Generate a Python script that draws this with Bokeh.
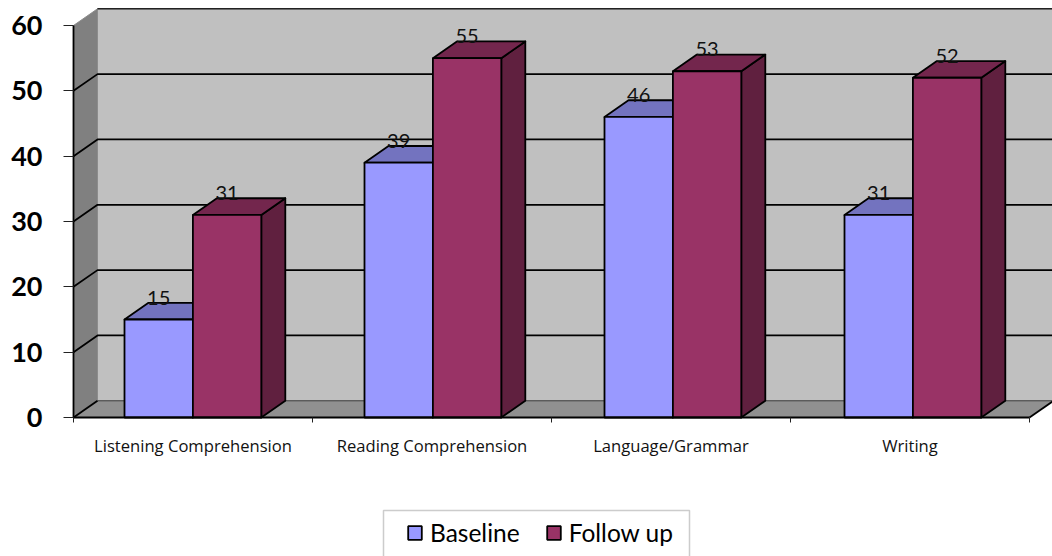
from bokeh.plotting import figure
from bokeh.models import Range1d, FixedTicker, Legend, LegendItem, BoxAnnotation
from bokeh.core.properties import value
from bokeh.embed import file_html
from bokeh.resources import INLINE

categories = ["Listening Comprehension", "Reading Comprehension", "Language/Grammar", "Writing"]
baseline = [15, 39, 46, 31]
follow_up = [31, 55, 53, 52]
y_ticks = [0, 10, 20, 30, 40, 50, 60]

W, H = 1052, 556
X0, Y0 = 73, 417          # canvas position of the axes origin
CAT_PX = 239              # width of one category
UNIT_PX = 392 / 60        # height of one score point
DX = 24 / CAT_PX          # oblique depth of the 3D box
DY = 16.7 / UNIT_PX
GAP = 51 / CAT_PX
BAR = 68.4 / CAT_PX
STEP = 240 / CAT_PX       # distance between bar clusters

BLUE, BLUE_TOP = "#9999FF", "#7373BF"
RED, RED_TOP, RED_SIDE = "#993366", "#73264D", "#60203F"
FONT = "Lato"
LABEL_FONT = "Open Sans"

x_min, x_max = -X0 / CAT_PX, (W - X0) / CAT_PX
y_min, y_max = (Y0 - H) / UNIT_PX, Y0 / UNIT_PX

p = figure(width=W, height=H, output_backend="svg", toolbar_location=None,
           x_range=Range1d(x_min, x_max), y_range=Range1d(y_min, y_max),
           min_border=0, outline_line_color=None, background_fill_color="white")
p.grid.visible = False

# Walls and floor of the box
n = len(categories)
y_top = y_ticks[-1]
p.patch([DX, x_max, x_max, DX], [DY, DY, y_top + DY, y_top + DY],
        fill_color="#C0C0C0", line_color="#8C8C8C", line_width=1)
p.patch([0, DX, DX, 0], [0, DY, y_top + DY, y_top],
        fill_color="#808080", line_color="#8C8C8C", line_width=1)
p.line([DX, x_max], [y_top + DY, y_top + DY], line_color="#222222", line_width=1.5)

# Gridlines run up the side wall and across the back wall
for t in y_ticks[1:-1]:
    p.line([0, DX, x_max], [t, t + DY, t + DY], line_color="black", line_width=1.8)

p.patch([0, n, n + DX, x_max, DX], [0, 0, DY, DY, DY],
        fill_color="#909090", line_color=None)
p.line([DX, x_max], [DY, DY], line_color="#404040", line_width=1)
p.line([0, DX], [0, DY], line_color="black", line_width=1.8)
p.line([n, n + DX], [0, DY], line_color="black", line_width=1.8)


def draw_series(values, offset, face, top, side):
    lefts = [i * STEP + GAP + offset * BAR for i in range(n)]
    rights = [l + BAR for l in lefts]
    p.patches([[r, r + DX, r + DX, r] for r in rights],
              [[0, DY, v + DY, v] for v in values],
              fill_color=side, line_color="black", line_width=1.8, line_join="round")
    p.patches([[l, l + DX, r + DX, r] for l, r in zip(lefts, rights)],
              [[v, v + DY, v + DY, v] for v in values],
              fill_color=top, line_color="black", line_width=1.8, line_join="round")
    return p.quad(left=lefts, right=rights, bottom=0, top=values,
                  fill_color=face, line_color="black", line_width=1.8)


blue_bars = draw_series(baseline, 0, BLUE, BLUE_TOP, BLUE_TOP)
red_bars = draw_series(follow_up, 1, RED, RED_TOP, RED_SIDE)

# Value labels sit on the back edge of each bar top
for values, offset in ((baseline, 0), (follow_up, 1)):
    p.text([i * STEP + GAP + (offset + 0.5) * BAR for i in range(n)],
           [v + DY - 0.3 for v in values], text=[str(v) for v in values],
           text_font=value(FONT), text_font_size="20px", text_color="#111111",
           text_align="center", text_baseline="bottom")

# Axes are pinned to the front edge of the box
ya = p.yaxis[0]
ya.fixed_location = 0
ya.bounds = (0, y_top)
ya.ticker = FixedTicker(ticks=y_ticks)
ya.major_tick_in = 0
ya.major_tick_out = 10
ya.minor_tick_out = 0
ya.minor_tick_in = 0
ya.major_tick_line_color = "#222222"
ya.axis_line_color = "black"
ya.axis_line_width = 1.8
ya.major_label_standoff = 21
ya.major_label_text_font = FONT
ya.major_label_text_font_style = "bold"
ya.major_label_text_font_size = "27px"
ya.major_label_text_color = "black"

xa = p.xaxis[0]
xa.fixed_location = 0
xa.bounds = (0, n)
centers = [0.5, 1.5, 2.5, 3.5]
xa.ticker = FixedTicker(ticks=centers, minor_ticks=list(range(n + 1)))
xa.major_label_overrides = dict(zip(centers, categories))
xa.major_tick_in = 0
xa.major_tick_out = 0
xa.minor_tick_in = 0
xa.minor_tick_out = 5
xa.minor_tick_line_color = "#222222"
xa.axis_line_color = "black"
xa.axis_line_width = 1.8
xa.major_label_standoff = 11
xa.major_label_text_font = LABEL_FONT
xa.major_label_text_font_size = "16.6px"
xa.major_label_text_color = "#111111"

# Legend frame and entries
p.add_layout(BoxAnnotation(left=383, right=689, top=H - 510, bottom=-5,
                           left_units="screen", right_units="screen",
                           top_units="screen", bottom_units="screen",
                           fill_color="white", fill_alpha=1,
                           line_color="#555555", line_width=1.5))
legend = Legend(items=[LegendItem(label="Baseline", renderers=[blue_bars]),
                       LegendItem(label="Follow up", renderers=[red_bars])],
                orientation="horizontal", location=(406, 9),
                padding=0, margin=0, spacing=25, label_standoff=7,
                glyph_width=17, glyph_height=17,
                border_line_color=None, background_fill_alpha=0,
                label_text_font=FONT, label_text_font_size="24.5px",
                label_text_color="black")
p.add_layout(legend)

open("out.html", "w").write(file_html(p, INLINE))
